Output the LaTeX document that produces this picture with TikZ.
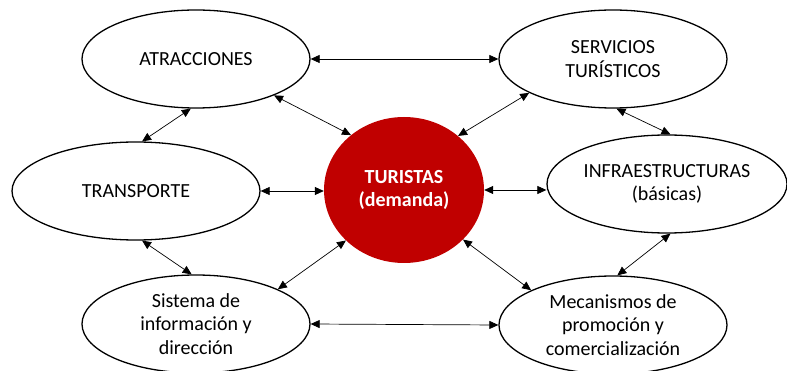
\documentclass[tikz,border=0pt]{standalone}
\usepackage{fontspec}
\setmainfont{Carlito}
\usetikzlibrary{shapes.geometric,arrows.meta}
\definecolor{tured}{HTML}{C00000}
\tikzset{
  oval/.style={ellipse, draw=black, line width=1.3pt, fill=white, inner sep=0pt,
    minimum width=228pt, minimum height=98pt, align=center,
    font=\fontsize{20}{23.5}\selectfont},
  hub/.style={ellipse, fill=tured, draw=none, inner sep=0pt,
    minimum width=160pt, minimum height=146pt, align=center, text=white,
    font=\fontsize{20}{23.5}\selectfont\bfseries},
  link/.style={{Triangle[length=9pt,width=8pt]}-{Triangle[length=9pt,width=8pt]}, line width=0.7pt}
}
\begin{document}
\begin{tikzpicture}[x=1pt,y=-1pt]
\useasboundingbox (0,0) rectangle (787,371);
\node[oval] (atr) at (196,59) {ATRACCIONES};
\node[oval] (ser) at (613,59) {SERVICIOS\\TURÍSTICOS};
\node[oval, minimum width=248pt] (tra) at (136,191) {TRANSPORTE};
\node[oval, minimum width=240pt] (inf) at (667,184) {INFRAESTRUCTURAS\\(básicas)};
\node[oval] (sis) at (196,324) {Sistema de\\información y\\dirección};
\node[oval] (mec) at (613,325) {Mecanismos de\\promoción y\\comercialización};
\node[hub] (tur) at (404,190) {TURISTAS\\(demanda)};

\draw[link] (atr.east) -- (ser.west);
\draw[link] (atr.-96) -- (tra.83);
\draw[link] (atr.-25) -- (tur.134);
\draw[link] (ser.202) -- (tur.45);
\draw[link] (ser.-86) -- (inf.86);
\draw[link] (tra.east) -- (tra.east -| tur.west);
\draw[link] (tur.east) -- (tur.east -| inf.west);
\draw[link] (tra.-83) -- (sis.95);
\draw[link] (tur.-139) -- (sis.23);
\draw[link] (tur.-40) -- (mec.157);
\draw[link] (inf.-86) -- (mec.85);
\draw[link] (sis.east) -- (mec.west);
\end{tikzpicture}
\end{document}
